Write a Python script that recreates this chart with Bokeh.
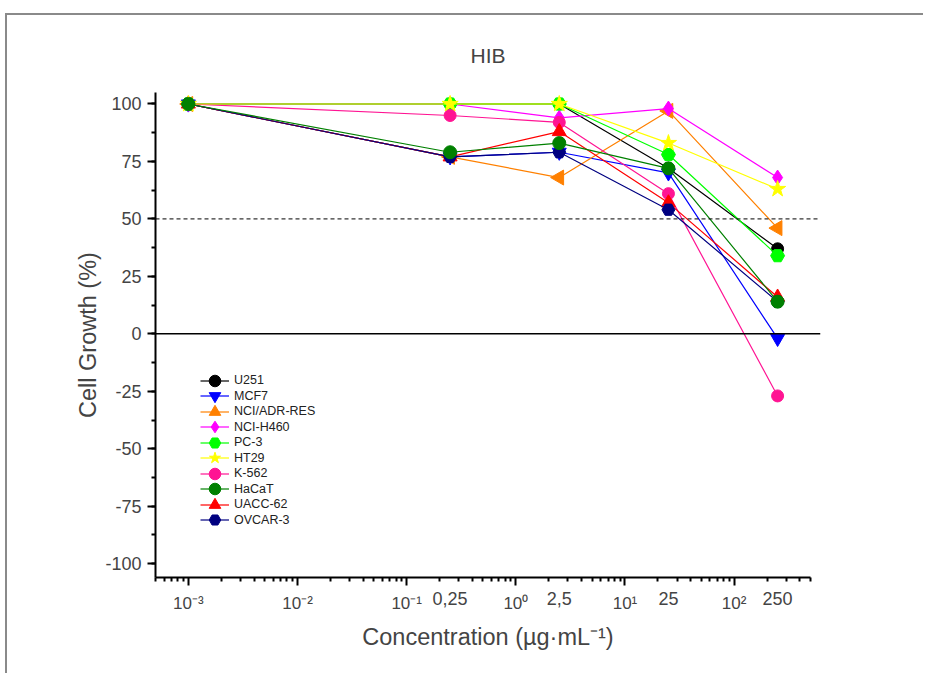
from bokeh.plotting import figure
from bokeh.models import (FixedTicker, SingleIntervalTicker, Span, Legend,
                          LegendItem, Range1d, LogAxis)
from bokeh.embed import file_html
from bokeh.resources import INLINE

# ---------------- data ----------------
conc = [0.001, 0.25, 2.5, 25, 250]
conc_labels = ["0,25", "2,5", "25", "250"]

names = ["U251", "MCF7", "NCI/ADR-RES", "NCI-H460", "PC-3", "HT29",
         "K-562", "HaCaT", "UACC-62", "OVCAR-3"]
u251 = [100, 100, 100, 72, 37]
mcf7 = [100, 77, 79, 70, -2]
nci_adr = [100, 77, 68, 97, 46]
nci_h460 = [100, 100, 94, 98, 68]
pc3 = [100, 100, 100, 78, 34]
ht29 = [100, 100, 100, 83, 63]
k562 = [100, 95, 92, 61, -27]
hacat = [100, 79, 83, 72, 14]
uacc62 = [100, 77, 88, 57, 16]
ovcar3 = [100, 77, 79, 54, 14]

decade_ticks = [1e-3, 1e-2, 1e-1, 1.0, 10.0, 100.0]
decade_labels = ["10⁻³", "10⁻²", "10⁻¹", "10⁰", "10¹", "10²"]
y_ticks = [-100, -75, -50, -25, 0, 25, 50, 75, 100]
y_tick_labels = ["-100", "-75", "-50", "-25", "0", "25", "50", "75", "100"]

series = [u251, mcf7, nci_adr, nci_h460, pc3, ht29, k562, hacat, uacc62, ovcar3]
colors = ["#000000", "#0000FF", "#FF8000", "#FF00FF", "#00FF00", "#FFFF00",
          "#FF1493", "#008000", "#FF0000", "#000080"]
markers = ["circle", "inverted_triangle", "triangle", "diamond", "hex", "star",
           "circle", "circle", "triangle", "hex"]
angles = [0, 0, 1.5708, 0, 0, 0, 0, 0, 0, 0]
sizes = [12, 14, 15, 15, 14, 17, 12, 13, 14, 13]

FONT = "Liberation Sans"

p = figure(width=918, height=660, x_axis_type="log",
           x_range=Range1d(0.0005, 618), y_range=Range1d(-106, 105),
           output_backend="svg", toolbar_location=None,
           min_border_left=148, min_border_right=105,
           min_border_top=77, min_border_bottom=98)
p.styles = {"border-left": "2px solid #8a8a8a", "border-top": "2px solid #8a8a8a",
            "margin-top": "13px", "margin-left": "5px"}
p.outline_line_color = None
p.xgrid.grid_line_color = None
p.ygrid.grid_line_color = None

p.title.text = "HIB"
p.title.align = "center"
p.title.vertical_align = "top"
p.title.text_font = FONT
p.title.text_font_size = "21px"
p.title.text_font_style = "normal"
p.title.standoff = 47

# x axis (ticks + decade labels)
minor = []
for e in range(-4, 3):
    for k in range(2, 10):
        v = k * 10.0 ** e
        if 0.0005 <= v <= 500:
            minor.append(v)
minor.append(0.0005)
xa = p.xaxis[0]
xa.ticker = FixedTicker(ticks=decade_ticks, minor_ticks=minor)
xa.major_label_overrides = {t: l for t, l in zip(decade_ticks, decade_labels)}
xa.bounds = (0.0005, 500)
xa.major_label_text_font = FONT
xa.major_label_text_font_size = "17px"
xa.major_label_standoff = 8
xa.axis_line_width = 2
xa.major_tick_line_width = 2
xa.minor_tick_line_width = 2
xa.major_tick_out = 8
xa.major_tick_in = 0
xa.minor_tick_out = 4
xa.minor_tick_in = 0

# second x axis: concentration labels + axis title
xb = LogAxis(ticker=FixedTicker(ticks=conc[1:], minor_ticks=[]),
             major_label_overrides={c: l for c, l in zip(conc[1:], conc_labels)},
             axis_line_color=None, major_tick_line_color=None,
             minor_tick_line_color=None, major_tick_out=0, minor_tick_out=0,
             major_label_standoff=-24,
             major_label_text_font=FONT, major_label_text_font_size="18px",
             axis_label="Concentration (µg·mL⁻¹)", axis_label_text_font=FONT,
             axis_label_text_font_size="23.5px", axis_label_text_font_style="normal",
             axis_label_standoff=16)
p.add_layout(xb, "below")

# y axis
ya = p.yaxis[0]
ya.ticker = SingleIntervalTicker(interval=25, num_minor_ticks=2)
ya.major_label_overrides = {t: l for t, l in zip(y_ticks, y_tick_labels)}
ya.bounds = (-106, 105)
ya.axis_label = "Cell Growth (%)"
ya.axis_label_text_font = FONT
ya.axis_label_text_font_size = "23.5px"
ya.axis_label_text_font_style = "normal"
ya.axis_label_standoff = 1
ya.major_label_text_font = FONT
ya.major_label_text_font_size = "18px"
ya.major_label_standoff = 6
ya.axis_line_width = 2
ya.major_tick_line_width = 2
ya.minor_tick_line_width = 2
ya.major_tick_out = 8
ya.major_tick_in = 0
ya.minor_tick_out = 4
ya.minor_tick_in = 0

# reference lines
p.add_layout(Span(location=0, dimension="width", line_color="black", line_width=1.5))
p.add_layout(Span(location=50, dimension="width", line_color="black", line_width=1,
                  line_dash="4 3"))

# series
renderers = {}
draw_order = [0, 1, 2, 3, 4, 6, 8, 9, 5, 7]
for i in draw_order:
    ln = p.line(conc, series[i], line_color=colors[i], line_width=1.2)
    sc = p.scatter(conc, series[i], marker=markers[i], size=sizes[i],
                   angle=angles[i], fill_color=colors[i], line_color=colors[i])
    renderers[i] = [ln, sc]

# legend: two interleaved legends so rows are 15.5px apart with full-size markers
legend_style = dict(border_line_color=None, background_fill_alpha=0,
                    glyph_width=29, glyph_height=31, label_height=31, spacing=0,
                    padding=0, margin=0, label_standoff=5, label_text_font=FONT,
                    label_text_font_size="12.5px", label_text_color="#222222")
items_a = [LegendItem(label=names[i], renderers=renderers[i]) for i in range(0, 10, 2)]
items_b = [LegendItem(label=names[i], renderers=renderers[i]) for i in range(1, 10, 2)]
p.add_layout(Legend(items=items_a, location=(45, 57.5), **legend_style))
p.add_layout(Legend(items=items_b, location=(45, 42), **legend_style))

open("out.html", "w").write(file_html(p, INLINE))
